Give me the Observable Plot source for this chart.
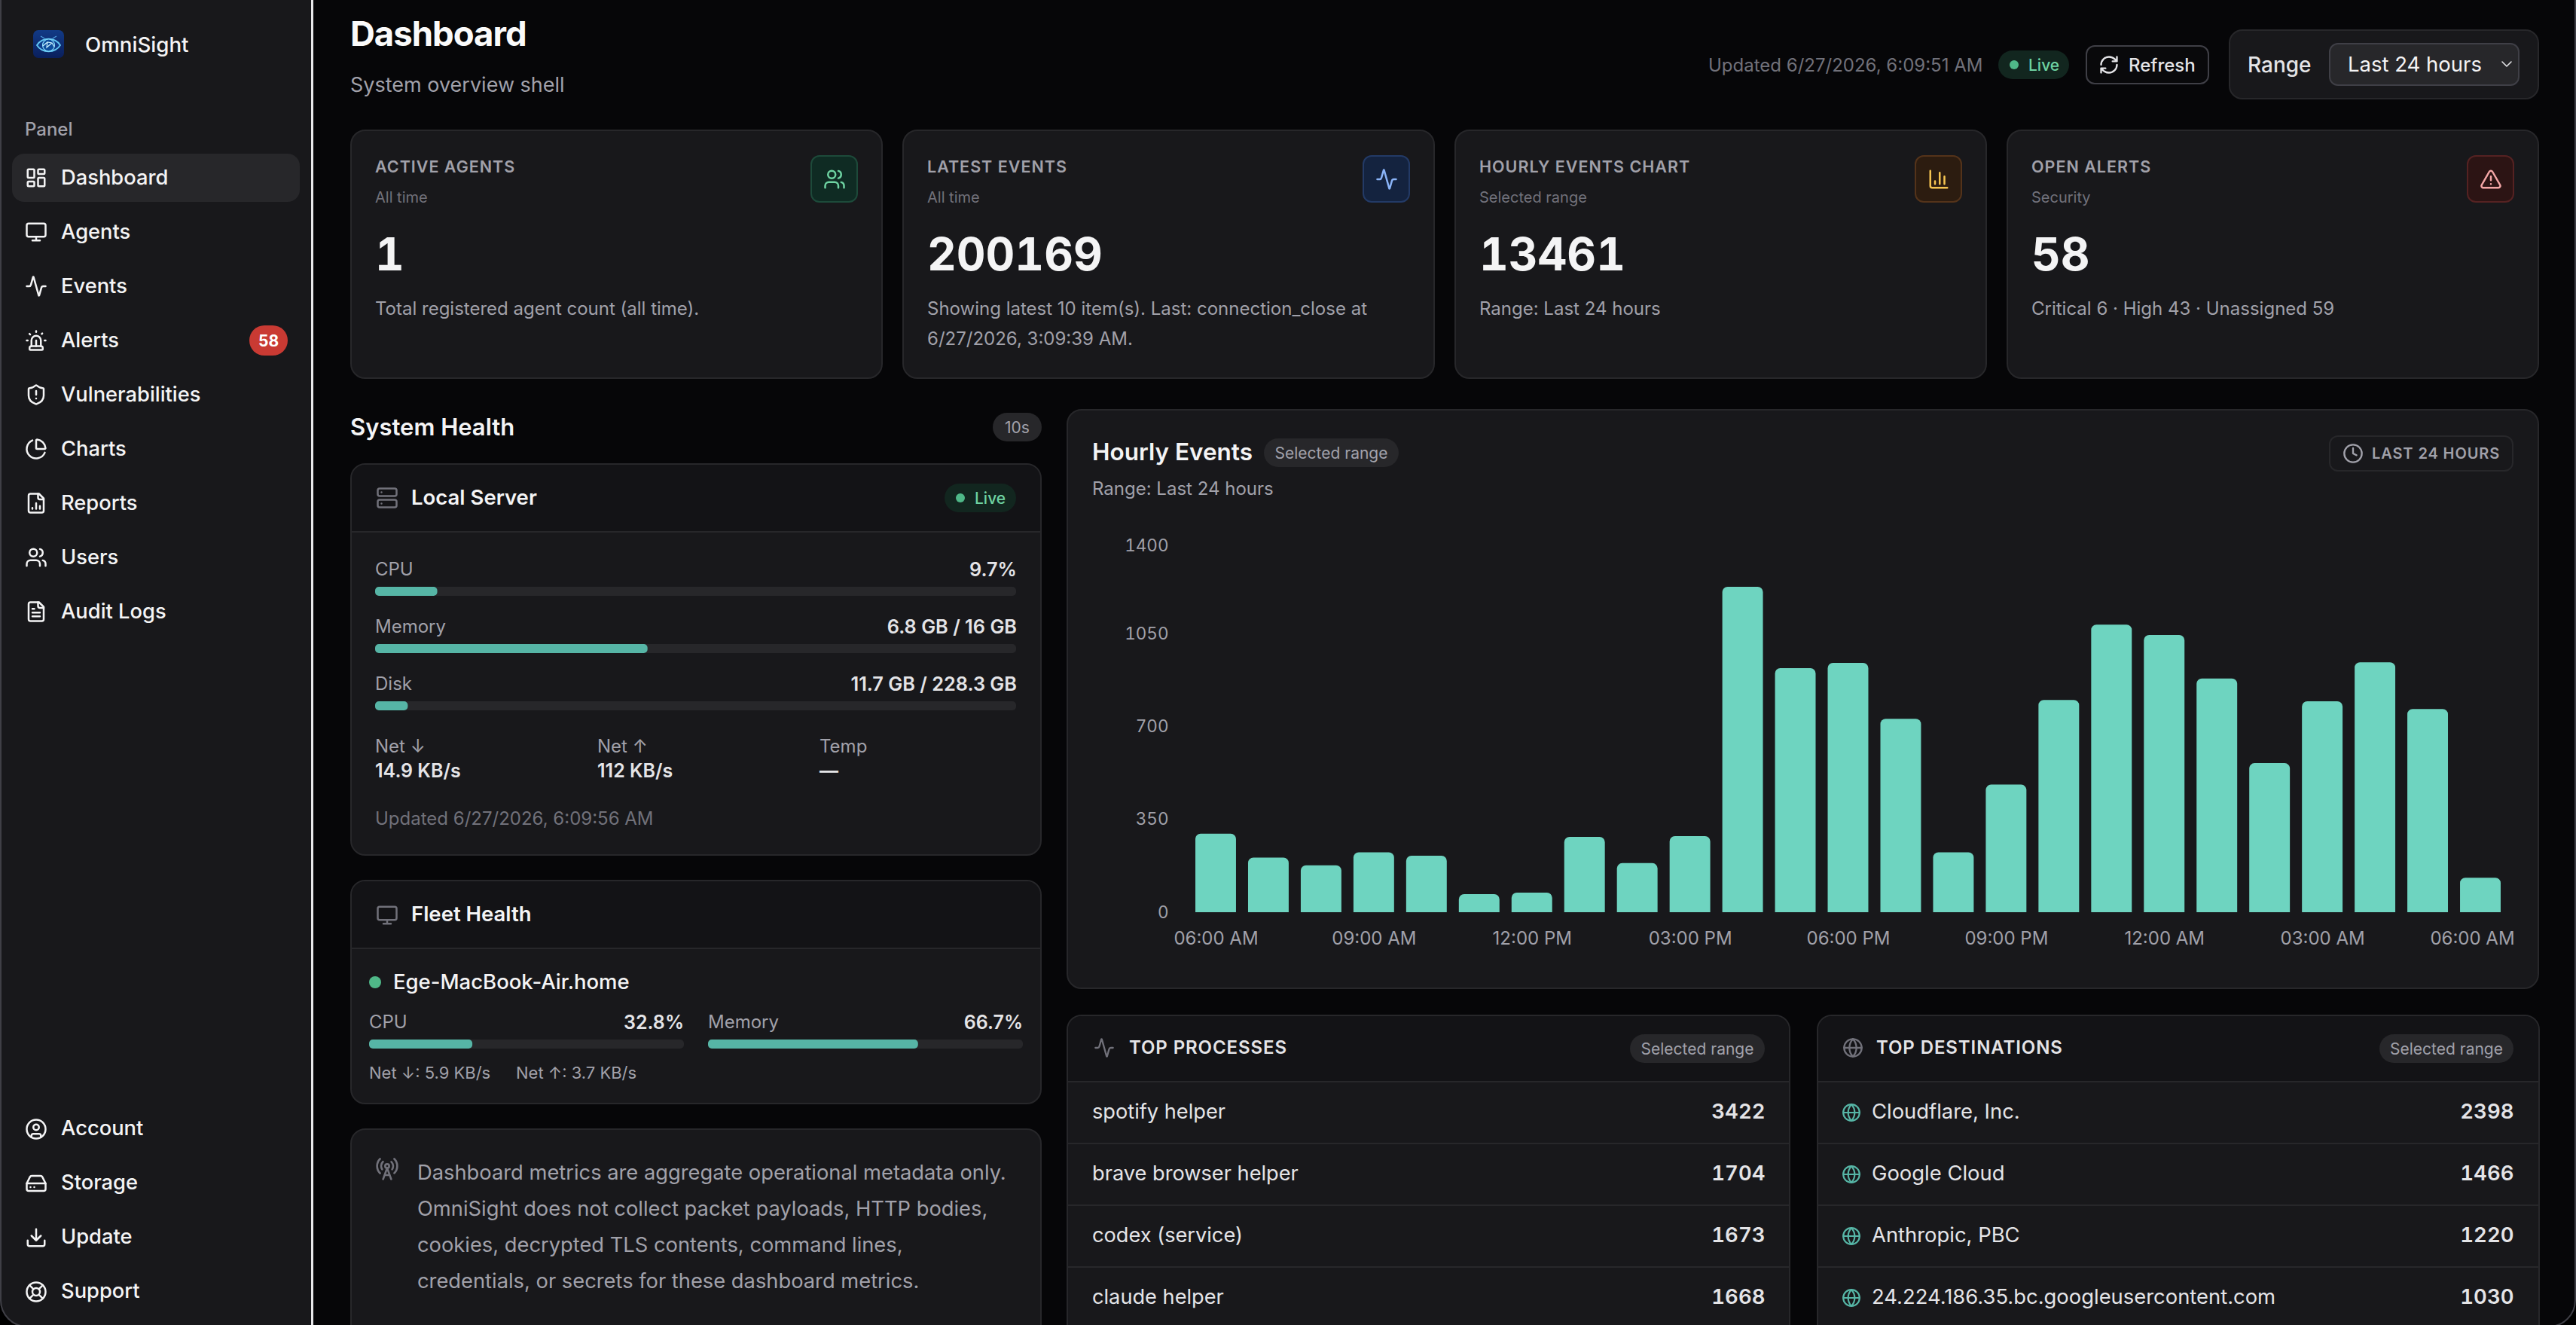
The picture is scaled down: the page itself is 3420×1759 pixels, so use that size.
<!DOCTYPE html>
<html lang="en">
<head>
<meta charset="utf-8">
<title>OmniSight Dashboard</title>
<script src="https://cdn.jsdelivr.net/npm/d3@7"></script>
<script src="https://cdn.jsdelivr.net/npm/@observablehq/plot@0.6"></script>
<style>
html,body{margin:0;padding:0;background:#060608;}
#app{position:relative;width:3420px;height:1759px;overflow:hidden;background:#060608;font-family:Inter,"Noto Sans",sans-serif;color:#fafafa;}
#app div{box-sizing:border-box;}
.t{position:absolute;white-space:nowrap;line-height:1;transform:translateY(-50%);}
.b{position:absolute;}
.plot-abs{position:absolute;}
svg.ic{position:absolute;fill:none;stroke:currentColor;stroke-width:2;stroke-linecap:round;stroke-linejoin:round;}
</style>
</head>
<body>
<div id="app"></div>
<script>
// ---------- chart data ----------
const hourLabels = ["06:00 AM","07:00 AM","08:00 AM","09:00 AM","10:00 AM","11:00 AM","12:00 PM","01:00 PM","02:00 PM","03:00 PM","04:00 PM","05:00 PM","06:00 PM","07:00 PM","08:00 PM","09:00 PM","10:00 PM","11:00 PM","12:00 AM","01:00 AM","02:00 AM","03:00 AM","04:00 AM","05:00 AM","06:00 AM"];
const hourlyEvents = [296,206,177,226,213,68,74,284,185,287,1227,920,940,729,226,481,800,1084,1045,881,562,795,942,766,130];
const yTicks = [0,350,700,1050];
const yTopTick = [1400];
const xTickIndexes = [0,3,6,9,12,15,18,21];
const xLastTick = [24];

const serverMetrics = ["CPU","Memory","Disk"];
const serverValues = ["9.7%","6.8 GB / 16 GB","11.7 GB / 228.3 GB"];
const serverPercent = [9.7,42.5,5.1];
const fleetMetrics = ["CPU","Memory"];
const fleetValues = ["32.8%","66.7%"];
const fleetPercent = [32.8,66.7];

const processNames = ["spotify helper","brave browser helper","codex (service)","claude helper"];
const processCounts = [3422,1704,1673,1668];
const destNames = ["Cloudflare, Inc.","Google Cloud","Anthropic, PBC","24.224.186.35.bc.googleusercontent.com"];
const destCounts = [2398,1466,1220,1030];

const navTop = ["Dashboard","Agents","Events","Alerts","Vulnerabilities","Charts","Reports","Users","Audit Logs"];
const navBottom = ["Account","Storage","Update","Support"];

const cardTitles = ["ACTIVE AGENTS","LATEST EVENTS","HOURLY EVENTS CHART","OPEN ALERTS"];
const cardSubs = ["All time","All time","Selected range","Security"];
const cardValues = ["1","200169","13461","58"];
const cardNotes = [["Total registered agent count (all time)."],["Showing latest 10 item(s). Last: connection_close at","6/27/2026, 3:09:39 AM."],["Range: Last 24 hours"],["Critical 6 · High 43 · Unassigned 59"]];

const noteLines = ["Dashboard metrics are aggregate operational metadata only.","OmniSight does not collect packet payloads, HTTP bodies,","cookies, decrypted TLS contents, command lines,","credentials, or secrets for these dashboard metrics."];

// ---------- icons (glyph outlines) ----------
const I = {
 dashboard:'<rect x="3" y="3" width="7" height="9" rx="1"/><rect x="14" y="3" width="7" height="5" rx="1"/><rect x="14" y="12" width="7" height="9" rx="1"/><rect x="3" y="16" width="7" height="5" rx="1"/>',
 monitor:'<rect x="2" y="3" width="20" height="14" rx="2"/><path d="M8 21h8M12 17v4"/>',
 activity:'<path d="M22 12h-2.48a2 2 0 0 0-1.93 1.46l-2.35 8.36a.25.25 0 0 1-.48 0L9.24 2.18a.25.25 0 0 0-.48 0l-2.35 8.36A2 2 0 0 1 4.49 12H2"/>',
 siren:'<path d="M7 18v-6a5 5 0 1 1 10 0v6"/><path d="M5 21a1 1 0 0 0 1 1h12a1 1 0 0 0 1-1v-1a2 2 0 0 0-2-2H7a2 2 0 0 0-2 2z"/><path d="M21 12h1M18.5 4.5 18 5M2 12h1M12 2v1M4.929 4.929l.707.707M12 12v6"/>',
 shield:'<path d="M20 13c0 5-3.5 7.5-7.66 8.95a1 1 0 0 1-.67-.01C7.5 20.5 4 18 4 13V6a1 1 0 0 1 1-1c2 0 4.5-1.2 6.24-2.72a1.17 1.17 0 0 1 1.52 0C14.51 3.81 17 5 19 5a1 1 0 0 1 1 1z"/><path d="M12 8v4M12 16h.01"/>',
 pie:'<path d="M21 12c.552 0 1.005-.449.95-.998a10 10 0 0 0-8.953-8.951c-.55-.055-.998.398-.998.95v8a1 1 0 0 0 1 1z"/><path d="M21.21 15.89A10 10 0 1 1 8 2.83"/>',
 report:'<path d="M15 2H6a2 2 0 0 0-2 2v16a2 2 0 0 0 2 2h12a2 2 0 0 0 2-2V7Z"/><path d="M14 2v4a2 2 0 0 0 2 2h4M8 18v-1M12 18v-6M16 18v-3"/>',
 users:'<path d="M16 21v-2a4 4 0 0 0-4-4H6a4 4 0 0 0-4 4v2"/><path d="M16 3.128a4 4 0 0 1 0 7.744M22 21v-2a4 4 0 0 0-3-3.87"/><circle cx="9" cy="7" r="4"/>',
 file:'<path d="M15 2H6a2 2 0 0 0-2 2v16a2 2 0 0 0 2 2h12a2 2 0 0 0 2-2V7Z"/><path d="M14 2v4a2 2 0 0 0 2 2h4M10 9H8M16 13H8M16 17H8"/>',
 account:'<circle cx="12" cy="12" r="10"/><circle cx="12" cy="10" r="3"/><path d="M7 20.662V19a2 2 0 0 1 2-2h6a2 2 0 0 1 2 2v1.662"/>',
 drive:'<path d="M22 12H2"/><path d="M5.45 5.11 2 12v6a2 2 0 0 0 2 2h16a2 2 0 0 0 2-2v-6l-3.45-6.89A2 2 0 0 0 16.76 4H7.24a2 2 0 0 0-1.79 1.11z"/><path d="M6 16h.01M10 16h.01"/>',
 download:'<path d="M21 15v4a2 2 0 0 1-2 2H5a2 2 0 0 1-2-2v-4M7 10l5 5 5-5M12 15V3"/>',
 buoy:'<circle cx="12" cy="12" r="10"/><path d="m4.93 4.93 4.24 4.24M14.83 9.17l4.24-4.24M14.83 14.83l4.24 4.24M9.17 14.83l-4.24 4.24"/><circle cx="12" cy="12" r="4"/>',
 refresh:'<path d="M3 12a9 9 0 0 1 9-9 9.75 9.75 0 0 1 6.74 2.74L21 8M21 3v5h-5M21 12a9 9 0 0 1-9 9 9.75 9.75 0 0 1-6.74-2.74L3 16M8 16H3v5"/>',
 chevron:'<path d="m6 9 6 6 6-6"/>',
 chart:'<path d="M3 3v16a2 2 0 0 0 2 2h16M18 17V9M13 17V5M8 17v-3"/>',
 triangle:'<path d="m21.73 18-8-14a2 2 0 0 0-3.48 0l-8 14A2 2 0 0 0 4 21h16a2 2 0 0 0 1.73-3M12 9v4M12 17h.01"/>',
 server:'<rect x="2" y="2" width="20" height="8" rx="2"/><rect x="2" y="14" width="20" height="8" rx="2"/><path d="M6 6h.01M6 18h.01"/>',
 clock:'<circle cx="12" cy="12" r="10"/><path d="M12 6v6l4 2"/>',
 globe:'<circle cx="12" cy="12" r="10"/><path d="M12 2a14.5 14.5 0 0 0 0 20 14.5 14.5 0 0 0 0-20M2 12h20"/>',
 tower:'<path d="M4.9 16.1C1 12.2 1 5.8 4.9 1.9M7.8 4.7a6.14 6.14 0 0 0-.8 7.5M16.2 4.8c2 2 2.26 5.11.8 7.47M19.1 1.9a9.96 9.96 0 0 1 0 14.1M9.5 18h5M8 22l4-11 4 11"/><circle cx="12" cy="9" r="2"/>'
};

// ---------- page helpers ----------
const app = document.getElementById("app");
const C = {panel:"#18181b",head:"#131316",line:"#27272a",edge:"#3f3f46",mut:"#a1a1aa",dim:"#71717a",txt:"#e4e4e7",white:"#f4f4f5",pill:"#27272a",teal:"#56b5a6",bar:"#6ed4c0",green:"#4fb888",greenT:"#6ed3a2",greenB:"#12261f"};
function box(x0,y0,x1,y1,o={}){const d=document.createElement("div");d.className="b";
 d.style.cssText=`left:${x0}px;top:${y0}px;width:${x1-x0}px;height:${y1-y0}px;background:${o.bg||"transparent"};border-radius:${o.r||0}px;${o.border?`border:2px solid ${o.border};`:""}${o.css||""}`;app.append(d);return d;}
function t(s,x,y,o={}){const d=document.createElement("div");d.className="t";d.textContent=s;
 d.style.cssText+=`${o.right?`right:${3420-x}px;`:`left:${x}px;`}top:${y}px;font-size:${o.size||24}px;font-weight:${o.w||400};color:${o.c||C.txt};${o.ls?`letter-spacing:${o.ls}px;`:""}${o.tnum?"font-variant-numeric:tabular-nums;":""}`;app.append(d);return d;}
function ic(name,cx,cy,size,color,sw){const s=document.createElementNS("http://www.w3.org/2000/svg","svg");s.setAttribute("viewBox","0 0 24 24");s.setAttribute("class","ic");
 s.style.cssText=`left:${cx-size/2}px;top:${cy-size/2}px;width:${size}px;height:${size}px;color:${color};stroke-width:${sw||2}`;s.innerHTML=I[name];app.append(s);}
function pill(x0,y0,x1,y1,label,bg,c,size){box(x0,y0,x1,y1,{bg,r:(y1-y0)/2});t(label,(x0+x1)/2,(y0+y1)/2,{size:size||21,c,w:400}).style.transform="translate(-50%,-50%)";}
function live(x0,y0,x1,y1){box(x0,y0,x1,y1,{bg:C.greenB,r:(y1-y0)/2});const cy=(y0+y1)/2;box(x0+15,cy-6,x0+27,cy+6,{bg:C.green,r:6});t("Live",x0+40,cy,{size:21,c:C.greenT,w:500});}

// progress bar drawn by Plot through its own x scale
function progress(x0,y0,x1,y1,pct){
 const el=Plot.plot({width:x1-x0,height:y1-y0,margin:0,axis:null,
  x:{domain:[0,100],range:[0,x1-x0]},y:{axis:null},
  style:{background:"transparent"},
  marks:[
   Plot.barX([100],{x1:0,x2:d=>d,fill:C.pill,r:5,inset:0}),
   Plot.barX([pct],{x1:0,x2:d=>d,fill:C.teal,r:5,inset:0})
  ]});
 el.classList.add("plot-abs");el.style.left=x0+"px";el.style.top=y0+"px";app.append(el);
}

// ---------- sidebar ----------
box(0,0,414,1759,{bg:C.panel});
box(413,0,416,1759,{bg:"#e8e8ea"});
(function logo(){const s=document.createElementNS("http://www.w3.org/2000/svg","svg");s.setAttribute("viewBox","0 0 41 37");s.style.cssText="position:absolute;left:44px;top:40px;width:41px;height:37px";
 s.innerHTML='<defs><linearGradient id="lg" x1="0" y1="0" x2="0" y2="1"><stop offset="0" stop-color="#123a86"/><stop offset="1" stop-color="#0a1f5c"/></linearGradient></defs><rect width="41" height="37" rx="7" fill="url(#lg)"/><path d="M5 20C12 9 29 9 36 20 29 31 12 31 5 20Z" fill="#0f3c8c" stroke="#63c9f5" stroke-width="1.8"/><circle cx="20.5" cy="20" r="8" fill="#0d4d9c" stroke="#8adfff" stroke-width="1.2"/><path d="M13 21l6-5 6 1 3 5M19 16l-1 7 7-6" fill="none" stroke="#cdf3ff" stroke-width="1.2"/><path d="M10 8l5 3M31 8l-5 3" stroke="#4f9fe0" stroke-width="1.3"/>';app.append(s);})();
t("OmniSight",113,60,{size:27.7,w:500,c:C.white});
t("Panel",33,172,{size:24,w:500,c:C.mut});
box(16,204,398,268,{bg:"#27272a",r:16});
const navIcons=["dashboard","monitor","activity","siren","shield","pie","report","users","file"];
navTop.forEach((n,i)=>{const y=235.7+72*i;ic(navIcons[i],48,y,30,C.white);t(n,81,y,{size:27.3,w:500,c:"#f4f4f5"});});
box(331,432,382,472,{bg:"#c93a33",r:20});
t("58",356.5,452,{size:21,w:700,c:"#fff"}).style.transform="translate(-50%,-50%)";
const navIcons2=["account","drive","download","buoy"];
navBottom.forEach((n,i)=>{const y=1498+72*i;ic(navIcons2[i],48,y+1,30,C.white);t(n,81,y,{size:27.3,w:500,c:"#f4f4f5"});});

// ---------- header ----------
t("Dashboard",465,45,{size:45.5,w:700,c:"#fafafa",ls:-1});
t("System overview shell",465,112,{size:27,c:C.mut});
t("Updated 6/27/2026, 6:09:51 AM",2268,87,{size:24,c:C.dim});
live(2653,67,2747,105);
box(2769,60,2933,112,{border:"#3f3f46",r:12,bg:"#09090b"});
ic("refresh",2800,86,28,C.txt);
t("Refresh",2826,87,{size:24,w:500,c:C.txt});
box(2959,39,3371,132,{bg:C.panel,border:C.line,r:18});
t("Range",2984,86,{size:28,w:500,c:C.txt});
box(3092,57,3345,114,{bg:"#27272a",border:C.edge,r:12});
t("Last 24 hours",3117,86,{size:27.5,w:400,c:C.white});
ic("chevron",3328,85,24,C.txt,1.6);

// ---------- stat cards ----------
const cardX=[465,1198,1931,2664];
const cardIcons=[["users","#0f2b23","#1d4a3a","#6ed3a2"],["activity","#14233f","#233a66","#8ab4f8"],["chart","#2c1c10","#54331a","#f5c451"],["triangle","#2c1414","#552222","#f4a6a6"]];
cardX.forEach((x,i)=>{
 box(x,172,x+707,503,{bg:C.panel,border:C.line,r:20});
 t(cardTitles[i],x+33,222,{size:21.5,w:600,c:C.mut,ls:1});
 t(cardSubs[i],x+33,262,{size:20,c:C.dim});
 t(cardValues[i],x+33,337,{size:60,w:700,c:C.white,tnum:true});
 cardNotes[i].forEach((l,j)=>t(l,x+33,410+40*j,{size:24,c:C.mut}));
 const [n,bg,bd,fg]=cardIcons[i];
 box(x+611,206,x+674,269,{bg,border:bd,r:12});
 ic(n,x+642.5,237.5,30,fg);
});

// ---------- system health ----------
t("System Health",465,566,{size:31,w:600,c:C.white});
pill(1318,548,1383,586,"10s",C.pill,C.mut,21);
box(465,615,1383,1136,{bg:C.panel,border:C.line,r:20});
box(467,617,1381,706,{bg:C.head,css:"border-radius:18px 18px 0 0;"});
box(467,705,1381,707,{bg:C.line});
ic("server",514,661,30,C.dim);
t("Local Server",546,661,{size:27.5,w:600,c:C.white});
live(1254,642,1349,680);
serverMetrics.forEach((m,i)=>{const y=755.5+76*i;
 t(m,498,y,{size:24,c:C.mut});
 t(serverValues[i],1350,y,{size:25.3,w:600,c:C.txt,right:true});
 progress(498,y+23.5,1349,y+35.5,serverPercent[i]);
});
t("Net ↓",498,991,{size:24,c:C.mut});t("Net ↑",793,991,{size:24,c:C.mut});t("Temp",1088,991,{size:24,c:C.mut});
t("14.9 KB/s",498,1023,{size:25,w:600,c:C.txt});t("112 KB/s",793,1023,{size:25,w:600,c:C.txt});t("—",1088,1023,{size:25,w:600,c:C.txt});
t("Updated 6/27/2026, 6:09:56 AM",498,1087,{size:24,c:C.dim});

box(465,1168,1383,1466,{bg:C.panel,border:C.line,r:20});
box(467,1170,1381,1259,{bg:C.head,css:"border-radius:18px 18px 0 0;"});
box(467,1258,1381,1260,{bg:C.line});
ic("monitor",514,1215,30,C.dim);
t("Fleet Health",546,1214,{size:27.5,w:600,c:C.white});
box(490,1296,506,1312,{bg:C.green,r:8});
t("Ege-MacBook-Air.home",522,1304,{size:27.5,w:500,c:C.white});
[[490,908],[940,1358]].forEach(([a,b],i)=>{
 t(fleetMetrics[i],a,1356.5,{size:24,c:C.mut});
 t(fleetValues[i],b,1356.5,{size:25,w:600,c:C.txt,right:true});
 progress(a,1380,b,1392,fleetPercent[i]);
});
t("Net ↓: 5.9 KB/s",490,1424,{size:22,c:C.mut});t("Net ↑: 3.7 KB/s",685,1424,{size:22,c:C.mut});

box(465,1498,1383,1790,{bg:C.panel,border:C.line,r:20});
ic("tower",514,1552,32,C.dim);
noteLines.forEach((l,i)=>t(l,554,1556.5+48.3*i,{size:27.3,c:C.mut}));

// ---------- hourly events panel ----------
box(1416,543,3371,1313,{bg:C.panel,border:C.line,r:20});
t("Hourly Events",1450,600,{size:31.5,w:600,c:C.white});
pill(1678,582,1857,620,"Selected range",C.pill,C.mut,21);
t("Range: Last 24 hours",1450,649,{size:24,c:C.mut});
box(3092,578,3337,626,{border:C.line,r:12});
ic("clock",3124,602,28,C.mut);
t("LAST 24 HOURS",3149,602,{size:20,w:600,c:C.mut,ls:0.9});

const chart=Plot.plot({
 width:1955,height:600,marginTop:28,marginBottom:79,marginLeft:155,marginRight:35,
 style:{background:"transparent",fontFamily:"Inter",fontSize:"24px",color:C.mut,overflow:"visible"},
 x:{type:"band",domain:d3.range(hourLabels.length),padding:0.229,round:false,axis:null},
 y:{domain:[0,1400],axis:null},
 marks:[
  Plot.barY(hourlyEvents,{x:(d,i)=>i,y:d=>d,fill:C.bar,rx1y1:7,rx2y1:7}),
  Plot.axisY(yTicks,{tickSize:0,tickPadding:20,label:null,anchor:"left",tickFormat:String,fontSize:22.5}),
  Plot.axisY(yTopTick,{tickSize:0,tickPadding:20,label:null,anchor:"left",tickFormat:String,dy:6,fontSize:22.5}),
  Plot.axisX(xTickIndexes,{tickSize:0,tickPadding:25,label:null,anchor:"bottom",tickFormat:i=>hourLabels[i]}),
  Plot.axisX(xLastTick,{tickSize:0,tickPadding:25,label:null,anchor:"bottom",tickFormat:i=>hourLabels[i],dx:-11})
 ]
});
chart.classList.add("plot-abs");chart.style.left="1416px";chart.style.top="690px";app.append(chart);

// ---------- top tables ----------
function table(x0,x1,icon,iconCx,title,titleX,pillX0,pillX1,names,counts,textX,rowIcon,nameSize){
 box(x0,1347,x1,1790,{bg:C.panel,border:C.line,r:20});
 box(x0+2,1349,x1-2,1436,{bg:C.head,css:"border-radius:18px 18px 0 0;"});
 ic(icon,iconCx,1391,28,C.dim);
 t(title,titleX,1391,{size:24,w:600,c:C.txt,ls:0.9});
 pill(pillX0,1373,pillX1,1411,"Selected range",C.pill,C.mut,21);
 [1436,1518,1600,1682].forEach(y=>box(x0+2,y-1,x1-2,y+1,{bg:C.line}));
 names.forEach((n,i)=>{const y=1475.6+82*i;
  if(rowIcon)ic("globe",iconCx-2,y+1,26,C.teal);
  t(n,textX,y,{size:nameSize,c:C.txt});
  t(String(counts[i]),pillX1+0.5,y,{size:27.5,w:600,c:C.txt,right:true,tnum:true});
 });
}
table(1416,2377,"activity",1466,"TOP PROCESSES",1499,2164,2343,processNames,processCounts,1450,false,27.2);
table(2412,3372,"globe",2460,"TOP DESTINATIONS",2491,3159,3337,destNames,destCounts,2485,true,27.4);

// ---------- window frame ----------
box(0,-10,3420,1762,{border:"#3f3f46",css:"border-radius:0 0 36px 36px;box-shadow:0 0 0 60px #000;pointer-events:none;"});
</script>
</body>
</html>
